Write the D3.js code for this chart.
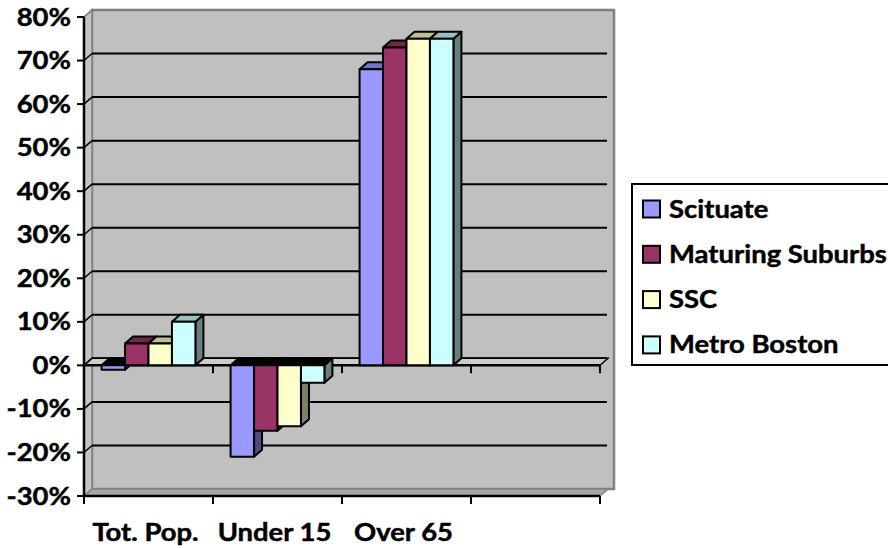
<!DOCTYPE html>
<html>
<head>
<meta charset="utf-8">
<script src="https://cdn.jsdelivr.net/npm/d3@7"></script>
<style>
  body { margin: 0; background: #fff; }
  svg text { font-family: Lato, "Open Sans", sans-serif; font-weight: bold; fill: #000; stroke: #000; stroke-width: 0.45px; }
</style>
</head>
<body>
<svg width="888" height="548"></svg>
<script>
// chart values (percent change)
const categories = ["Tot. Pop.", "Under 15", "Over 65", ""];
const seriesNames = ["Scituate", "Maturing Suburbs", "SSC", "Metro Boston"];
const scituate = [-1, -21, 68, null];
const maturingSuburbs = [5, -15, 73, null];
const ssc = [5, -14, 75, null];
const metroBoston = [10, -4, 75, null];
const yTicks = [-30, -20, -10, 0, 10, 20, 30, 40, 50, 60, 70, 80];

const values = [scituate, maturingSuburbs, ssc, metroBoston];
// front, top, side colours, like excel's shaded 3d columns
const front = ["#9999ff", "#993366", "#ffffcc", "#ccffff"];
const topC = ["#7373bf", "#73264d", "#bfbf99", "#99bfbf"];
const sideC = ["#4d4d80", "#4d1a33", "#808066", "#668080"];

let svg = d3.select("svg");
const dx = 8, dy = -7; // depth of the 3d box
const fontSize = 24.5, stretch = 1.12;

let x = d3.scaleBand().domain(categories).range([84, 600]);
let xs = d3.scaleBand().domain(seriesNames).range([0, x.bandwidth()]).paddingOuter(0.75);
let y = d3.scaleLinear().domain([-30, 80]).range([496, 17]);

let y0 = y(0), yMin = y(-30), yMax = y(80);
let xL = x.range()[0], xR = x.range()[1];

// back wall
svg.append("rect")
  .attr("x", xL + dx).attr("y", yMax + dy)
  .attr("width", xR - xL + 6).attr("height", yMin - yMax)
  .attr("fill", "#c0c0c0").attr("stroke", "#808080").attr("stroke-width", 2.5);

// side wall
svg.append("polygon")
  .attr("points", [[xL, yMax], [xL + dx, yMax + dy], [xL + dx, yMin + dy], [xL, yMin]].join(" "))
  .attr("fill", "#c4c4c4").attr("stroke", "#808080").attr("stroke-width", 1.5);

// floor at -30%
svg.append("polygon")
  .attr("points", [[xL, yMin], [xR, yMin], [xR + dx, yMin + dy], [xL + dx, yMin + dy]].join(" "))
  .attr("fill", "#a9a9a9").attr("stroke", "#808080").attr("stroke-width", 1.5);

// gridlines on back wall and side wall
let grid = yTicks.filter(d => d > -30 && d < 80);
svg.selectAll(".grid").data(grid).enter().append("line")
  .attr("class", "grid")
  .attr("x1", xL + dx).attr("x2", xR + dx - 1)
  .attr("y1", d => y(d) + dy).attr("y2", d => y(d) + dy)
  .attr("stroke", "#000").attr("stroke-width", 2);
svg.selectAll(".sgrid").data(grid).enter().append("line")
  .attr("class", "sgrid")
  .attr("x1", xL).attr("x2", xL + dx)
  .attr("y1", d => y(d)).attr("y2", d => y(d) + dy)
  .attr("stroke", "#000").attr("stroke-width", 1.5);

// zero plane
svg.append("polygon")
  .attr("points", [[xL, y0], [xR, y0], [xR + dx, y0 + dy], [xL + dx, y0 + dy]].join(" "))
  .attr("fill", "#cccccc").attr("stroke", "#000").attr("stroke-width", 1.5);

// category axis lines at 0 and at the bottom
[y0, yMin].forEach(yy => {
  svg.append("line").attr("x1", xL).attr("x2", xR).attr("y1", yy).attr("y2", yy)
    .attr("stroke", "#000").attr("stroke-width", 2.5);
  svg.selectAll(null).data(categories).enter().append("line")
    .attr("x1", d => x(d) + x.bandwidth()).attr("x2", d => x(d) + x.bandwidth())
    .attr("y1", yy).attr("y2", yy + 8)
    .attr("stroke", "#000").attr("stroke-width", 2);
});
svg.append("line").attr("x1", xL).attr("x2", xL).attr("y1", yMin).attr("y2", yMin + 8)
  .attr("stroke", "#000").attr("stroke-width", 2);

// bars
categories.forEach((cat, ci) => {
  seriesNames.forEach((s, si) => {
    let v = values[si][ci];
    if (v == null) return;
    let bx = x(cat) + xs(s), bw = xs.bandwidth();
    let yt = y(Math.max(v, 0)), yb = y(Math.min(v, 0));
    let g = svg.append("g").attr("stroke", "#000").attr("stroke-width", 2).attr("stroke-linejoin", "round");
    // side
    g.append("polygon")
      .attr("points", [[bx + bw, yt], [bx + bw + dx, yt + dy], [bx + bw + dx, yb + dy], [bx + bw, yb]].join(" "))
      .attr("fill", sideC[si]);
    // top
    g.append("polygon")
      .attr("points", [[bx, yt], [bx + bw, yt], [bx + bw + dx, yt + dy], [bx + dx, yt + dy]].join(" "))
      .attr("fill", v < 0 ? "#000" : topC[si]);
    // front
    g.append("rect").attr("x", bx).attr("y", yt).attr("width", bw).attr("height", yb - yt)
      .attr("fill", front[si]);
  });
});

// value axis
svg.append("line").attr("x1", xL).attr("x2", xL).attr("y1", yMax).attr("y2", yMin)
  .attr("stroke", "#000").attr("stroke-width", 2.5);
svg.append("line").attr("x1", xL).attr("x2", xL + dx).attr("y1", yMax).attr("y2", yMax + dy)
  .attr("stroke", "#808080").attr("stroke-width", 1.5);
svg.selectAll(".ytick").data(yTicks).enter().append("line")
  .attr("x1", xL - 7).attr("x2", xL).attr("y1", d => y(d)).attr("y2", d => y(d))
  .attr("stroke", "#000").attr("stroke-width", 2);

function label(g, px, py, txt, anchor) {
  g.append("g").attr("transform", `translate(${px},${py}) scale(${stretch},1)`)
    .append("text").attr("text-anchor", anchor).attr("font-size", fontSize).text(txt);
}

let labels = svg.append("g");
yTicks.forEach(d => label(labels, 71, y(d) + 8.5, d + "%", "end"));
categories.forEach(c => label(labels, x(c) + x.bandwidth() / 2 - 3, 541, c, "middle"));

// legend
let lg = svg.append("g");
lg.append("rect").attr("x", 632).attr("y", 184).attr("width", 262).attr("height", 181)
  .attr("fill", "#fff").attr("stroke", "#000").attr("stroke-width", 2);
seriesNames.forEach((s, i) => {
  let cy = 209 + i * 45.3;
  lg.append("rect").attr("x", 643).attr("y", cy - 8.5).attr("width", 17).attr("height", 17)
    .attr("fill", front[i]).attr("stroke", "#000").attr("stroke-width", 2);
  label(lg, 669, cy + 8.5, s, "start");
});
</script>
</body>
</html>
